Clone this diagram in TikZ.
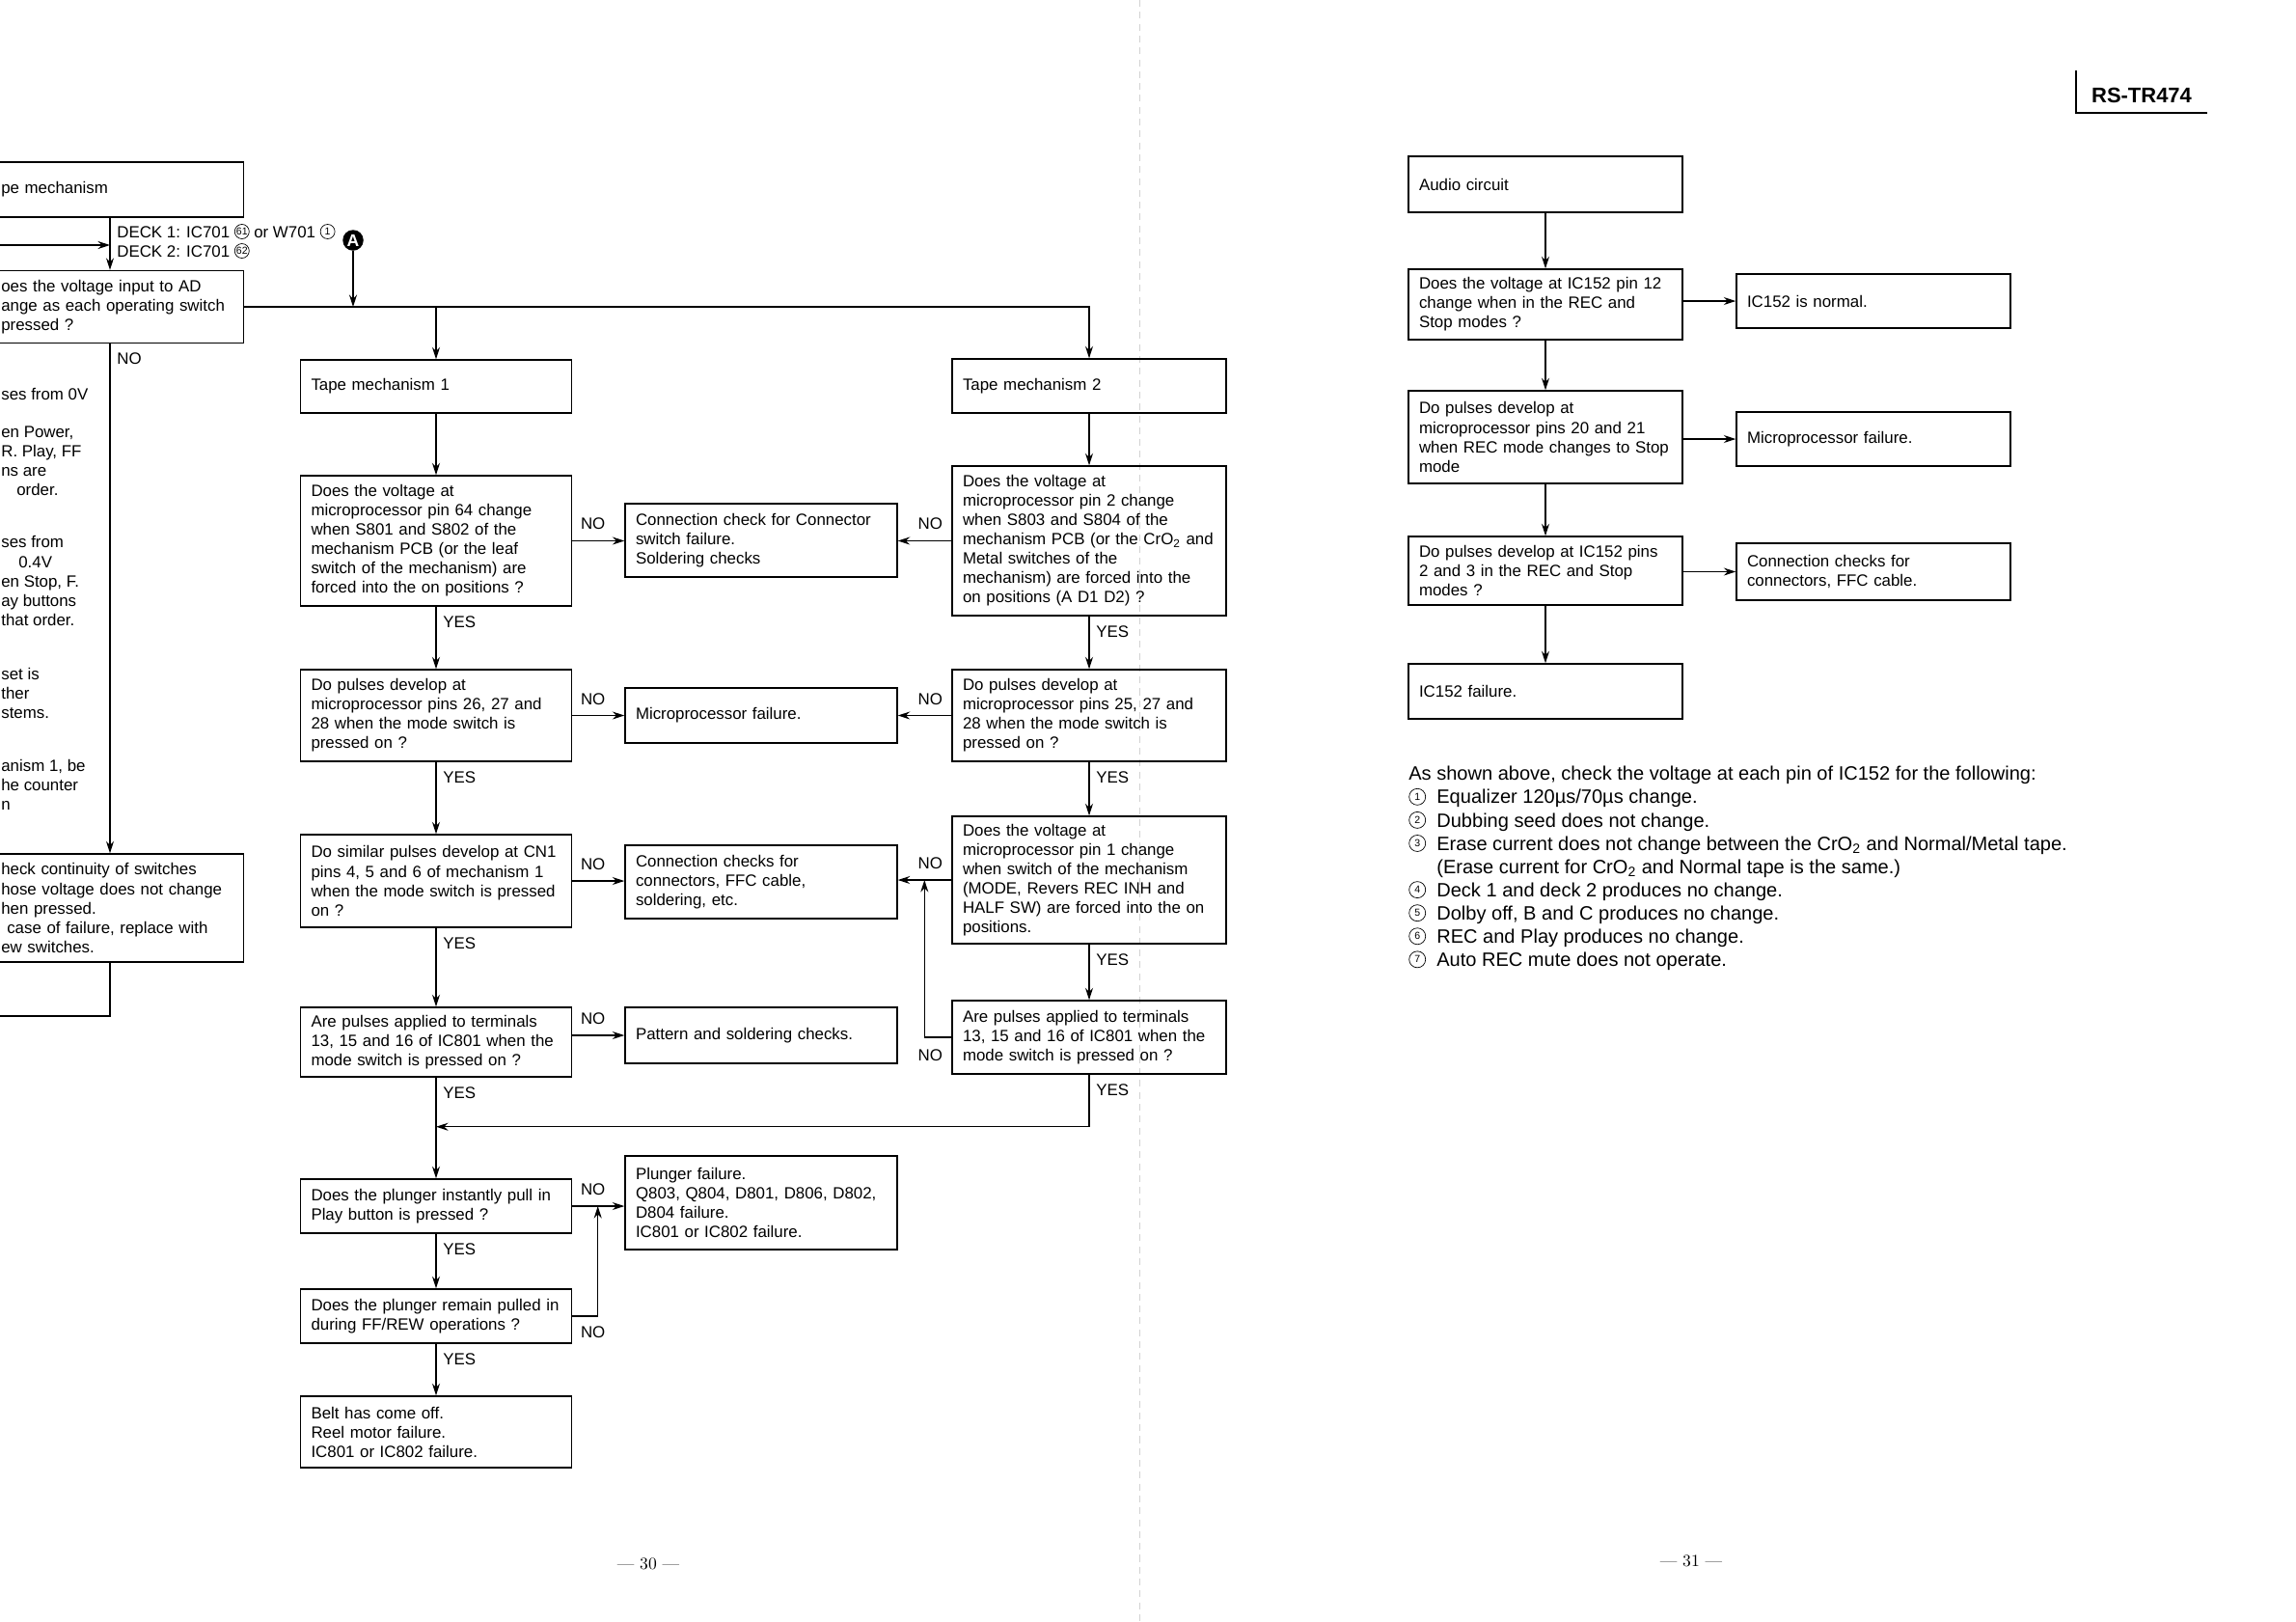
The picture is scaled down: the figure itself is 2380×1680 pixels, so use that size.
\documentclass[tikz,border=0pt]{standalone}
\usepackage{fontspec}
\newfontfamily\sansf{Liberation Sans}
\usetikzlibrary{arrows.meta,positioning}
\newcommand{\bxfont}{\sansf\fontsize{9.6}{11.4}\selectfont}
\newcommand{\notefont}{\sansf\fontsize{11.4}{13.7}\selectfont}
\newcommand{\cnum}[2][3mm]{\tikz[baseline={([yshift=-0.42*#1]cn.center)}]\node[circle,draw,line width=0.4pt,inner sep=0pt,
  minimum size=#1,font=\sansf\fontsize{6}{6}\selectfont] (cn) {#2};}
\newcommand{\nitem}[1]{\makebox[5.8mm][l]{\cnum[3.4mm]{#1}}}
\tikzset{
  >={Stealth[length=2.5mm,width=1.6mm]},
  blk/.style={draw,line width=0.8pt,inner xsep=2.2mm,inner ysep=0pt,align=left,font=\bxfont,minimum height=#1},
  midq/.style={blk=#1,text width=51.8mm},
  res/.style={blk=#1,text width=52mm},
  rgtq/.style={blk=#1,text width=52.4mm},
  lft/.style={blk=#1,text width=49.2mm,inner xsep=1mm,anchor=east},
  flow/.style={->,line width=0.7pt},
  lab/.style={font=\bxfont,inner sep=0pt},
  ylab/.style={lab,anchor=north west,xshift=1.4mm,yshift=-1.9mm},
  nlab/.style={lab,anchor=south west,xshift=1.7mm,yshift=2.2mm},
  nlabl/.style={lab,anchor=south east,xshift=-1.8mm,yshift=2.2mm},
  frag/.style={lab,anchor=west,align=left},
}

\begin{document}
\begin{tikzpicture}[x=0.2mm,y=-0.2mm]
  \useasboundingbox (0,0) rectangle (2380,1680);
  \fill[white] (0,0) rectangle (2380,1680);
  \clip (0,0) rectangle (2380,1680);
  \draw[gray!35,line width=0.4pt,dash pattern=on 4pt off 3pt] (1181,0) -- (1181,1680);

  % left page, cut at the margin
  \node[lft=11.4mm] (lt) at (253,196.5) {pe mechanism};
  \node[lft=15mm] (lq) at (253,318) {oes the voltage input to AD\\ange as each operating switch\\pressed ?};
  \node[lft=22.4mm] (lc) at (253,941) {heck continuity of switches\\hose voltage does not change\\hen pressed.\\\hspace*{1.2mm}case of failure, replace with\\ew switches.};
  \coordinate (lv) at (114,0);
  \coordinate (lin) at (0,254);
  \coordinate (lout) at (0,1053);
  \draw[flow] (lt.south -| lv) -- (lq.north -| lv);
  \draw[flow] (lin) -- (lin -| lv);
  \draw[flow] (lq.south -| lv) -- (lc.north -| lv);
  \draw[line width=0.7pt] (lc.south -| lv) |- (lout);
  \node[ylab] (no-lq) at (lq.south -| lv) {NO};
  \node[lab,anchor=west,align=left] (deck) at (121,250) {DECK 1: IC701 \cnum{61} or W701 \cnum{1}\\DECK 2: IC701 \cnum{62}};
  \node[circle,fill=black,text=white,inner sep=0pt,minimum size=4.3mm,
    font=\sansf\bfseries\fontsize{10}{10}\selectfont] (A) at (366,249) {A};

  \node[frag] (f1) at (1,408) {ses from 0V};
  \node[frag] (f2) at (1,477.5) {en Power,\\R. Play, FF\\ns are\\\hspace*{3.2mm}order.};
  \node[frag] (f3) at (1,602) {ses from\\\hspace*{3.6mm}0.4V\\en Stop, F.\\ay buttons\\that order.};
  \node[frag] (f4) at (1,718) {set is\\ther\\stems.};
  \node[frag] (f5) at (1,813.5) {anism 1, be\\he counter\\n};

  % tape mechanism 1
  \node[midq=11mm] (tm1) at (452,400.5) {Tape mechanism 1};
  \node[midq=27mm] (m1) at (452,560.5) {Does the voltage at\\microprocessor pin 64 change\\when S801 and S802 of the\\mechanism PCB (or the leaf\\switch of the mechanism) are\\forced into the on positions ?};
  \node[midq=19mm] (m2) at (452,741.5) {Do pulses develop at\\microprocessor pins 26, 27 and\\28 when the mode switch is\\pressed on ?};
  \node[midq=19.2mm] (m3) at (452,913) {Do similar pulses develop at CN1\\pins 4, 5 and 6 of mechanism 1\\when the mode switch is pressed\\on ?};
  \node[midq=14.4mm] (m4) at (452,1080) {Are pulses applied to terminals\\13, 15 and 16 of IC801 when the\\mode switch is pressed on ?};
  \node[midq=11.2mm] (m5) at (452,1250) {Does the plunger instantly pull in\\Play button is pressed ?};
  \node[midq=11.2mm] (m6) at (452,1364) {Does the plunger remain pulled in\\during FF/REW operations ?};
  \node[midq=14.8mm] (m7) at (452,1484) {Belt has come off.\\Reel motor failure.\\IC801 or IC802 failure.};

  \node[res=15.2mm] (r1) at (789,560) {Connection check for Connector\\switch failure.\\Soldering checks};
  \node[res=11.4mm] (r2) at (789,741.5) {Microprocessor failure.};
  \node[res=15.2mm] (r3) at (789,914) {Connection checks for\\connectors, FFC cable,\\soldering, etc.};
  \node[res=11.6mm] (r4) at (789,1073) {Pattern and soldering checks.};
  \node[res=19.4mm] (r5) at (789,1246.5) {Plunger failure.\\Q803, Q804, D801, D806, D802,\\D804 failure.\\IC801 or IC802 failure.};

  % tape mechanism 2
  \node[rgtq=11.2mm] (tm2) at (1129,400) {Tape mechanism 2};
  \node[rgtq=31mm] (n1) at (1129,560.5) {Does the voltage at\\microprocessor pin 2 change\\when S803 and S804 of the\\mechanism PCB (or the CrO\textsubscript{2} and\\Metal switches of the\\mechanism) are forced into the\\on positions (A D1 D2) ?};
  \node[rgtq=19mm] (n2) at (1129,741.5) {Do pulses develop at\\microprocessor pins 25, 27 and\\28 when the mode switch is\\pressed on ?};
  \node[rgtq=26.4mm] (n3) at (1129,912) {Does the voltage at\\microprocessor pin 1 change\\when switch of the mechanism\\(MODE, Revers REC INH and\\HALF SW) are forced into the on\\positions.};
  \node[rgtq=15.2mm] (n4) at (1129,1075) {Are pulses applied to terminals\\13, 15 and 16 of IC801 when the\\mode switch is pressed on ?};

  % audio circuit
  \node[rgtq=11.6mm] (a0) at (1602,191) {Audio circuit};
  \node[rgtq=14.6mm] (a1) at (1602,315.5) {Does the voltage at IC152 pin 12\\change when in the REC and\\Stop modes ?};
  \node[rgtq=19.2mm] (a2) at (1602,453) {Do pulses develop at\\microprocessor pins 20 and 21\\when REC mode changes to Stop\\mode};
  \node[rgtq=14.2mm] (a3) at (1602,591.5) {Do pulses develop at IC152 pins\\2 and 3 in the REC and Stop\\modes ?};
  \node[rgtq=11.4mm] (a4) at (1602,716.5) {IC152 failure.};
  \node[rgtq=11.2mm] (b1) at (1942,312) {IC152 is normal.};
  \node[rgtq=11.2mm] (b2) at (1942,455) {Microprocessor failure.};
  \node[rgtq=11.8mm] (b3) at (1942,592.5) {Connection checks for\\connectors, FFC cable.};

  \draw[flow] (lq.east) -| (tm2.north);
  \draw[flow] (lq.east -| tm1.north) -- (tm1.north);
  \draw[flow] (A.south) -- (A.south |- lq.east);

  \foreach \a/\b in {tm1/m1,m1/m2,m2/m3,m3/m4,m4/m5,m5/m6,m6/m7,tm2/n1,n1/n2,n2/n3,n3/n4,a0/a1,a1/a2,a2/a3,a3/a4}
    \draw[flow] (\a.south) -- (\b.north);
  \foreach \a/\b in {m1/r1,m2/r2,m3/r3,m5/r5}
    \draw[flow] (\a.east) -- (\a.east -| \b.west);
  \draw[flow] (r4.west -| m4.east) -- (r4.west);
  \foreach \a/\b in {n1/r1,n2/r2,n3/r3}
    \draw[flow] (\a.west) -- (\a.west -| \b.east);
  \foreach \a/\b in {a1/b1,a2/b2,a3/b3}
    \draw[flow] (\b.west -| \a.east) -- (\b.west);
  \coordinate (j3) at ([xshift=-5.6mm]n3.west);
  \draw[flow] (n4.west) -| (j3);
  \coordinate (j5) at ([xshift=5.3mm]m5.east);
  \draw[flow] (m6.east) -| (j5);
  \coordinate (mrg) at ([yshift=-10.2mm]m4.south);
  \draw[flow] (n4.south) |- (mrg);

  \foreach \n in {m1,m2,m3,m4,m5,m6,n1,n2,n3,n4}
    \node[ylab] (yes-\n) at (\n.south) {YES};
  \node[nlab] (no-m1) at (m1.east) {NO};
  \node[nlab] (no-m2) at (m2.east) {NO};
  \node[nlab] (no-m3) at (m3.east) {NO};
  \node[nlab] (no-m4) at (r4.west -| m4.east) {NO};
  \node[nlab] (no-m5) at (m5.east) {NO};
  \node[lab,anchor=north west,xshift=1.7mm,yshift=-2mm] (no-m6) at (m6.east) {NO};
  \foreach \n in {n1,n2,n3}
    \node[nlabl] (no-\n) at (\n.west) {NO};
  \node[lab,anchor=north east,xshift=-1.8mm,yshift=-2.4mm] (no-n4) at (n4.west) {NO};

  \node[lab,font=\notefont,anchor=north west,align=left] (note) at (1460,794) {As shown above, check the voltage at each pin of IC152 for the following:\\
    \nitem{1}Equalizer 120µs/70µs change.\\
    \nitem{2}Dubbing seed does not change.\\
    \nitem{3}Erase current does not change between the CrO\textsubscript{2} and Normal/Metal tape.\\
    \hspace*{5.8mm}(Erase current for CrO\textsubscript{2} and Normal tape is the same.)\\
    \nitem{4}Deck 1 and deck 2 produces no change.\\
    \nitem{5}Dolby off, B and C produces no change.\\
    \nitem{6}REC and Play produces no change.\\
    \nitem{7}Auto REC mute does not operate.};

  \node[inner sep=0pt,font=\sansf\bfseries\fontsize{12.5}{14}\selectfont] (model) at (2220,99) {RS-TR474};
  \draw[line width=1.1pt] (2152,73) |- (2288,117);
  \node[font=\rmfamily\fontsize{10}{12}\selectfont] (p30) at (672,1621) {— 30 —};
  \node[font=\rmfamily\fontsize{10}{12}\selectfont] (p31) at (1753,1618) {— 31 —};
\end{tikzpicture}
\end{document}
